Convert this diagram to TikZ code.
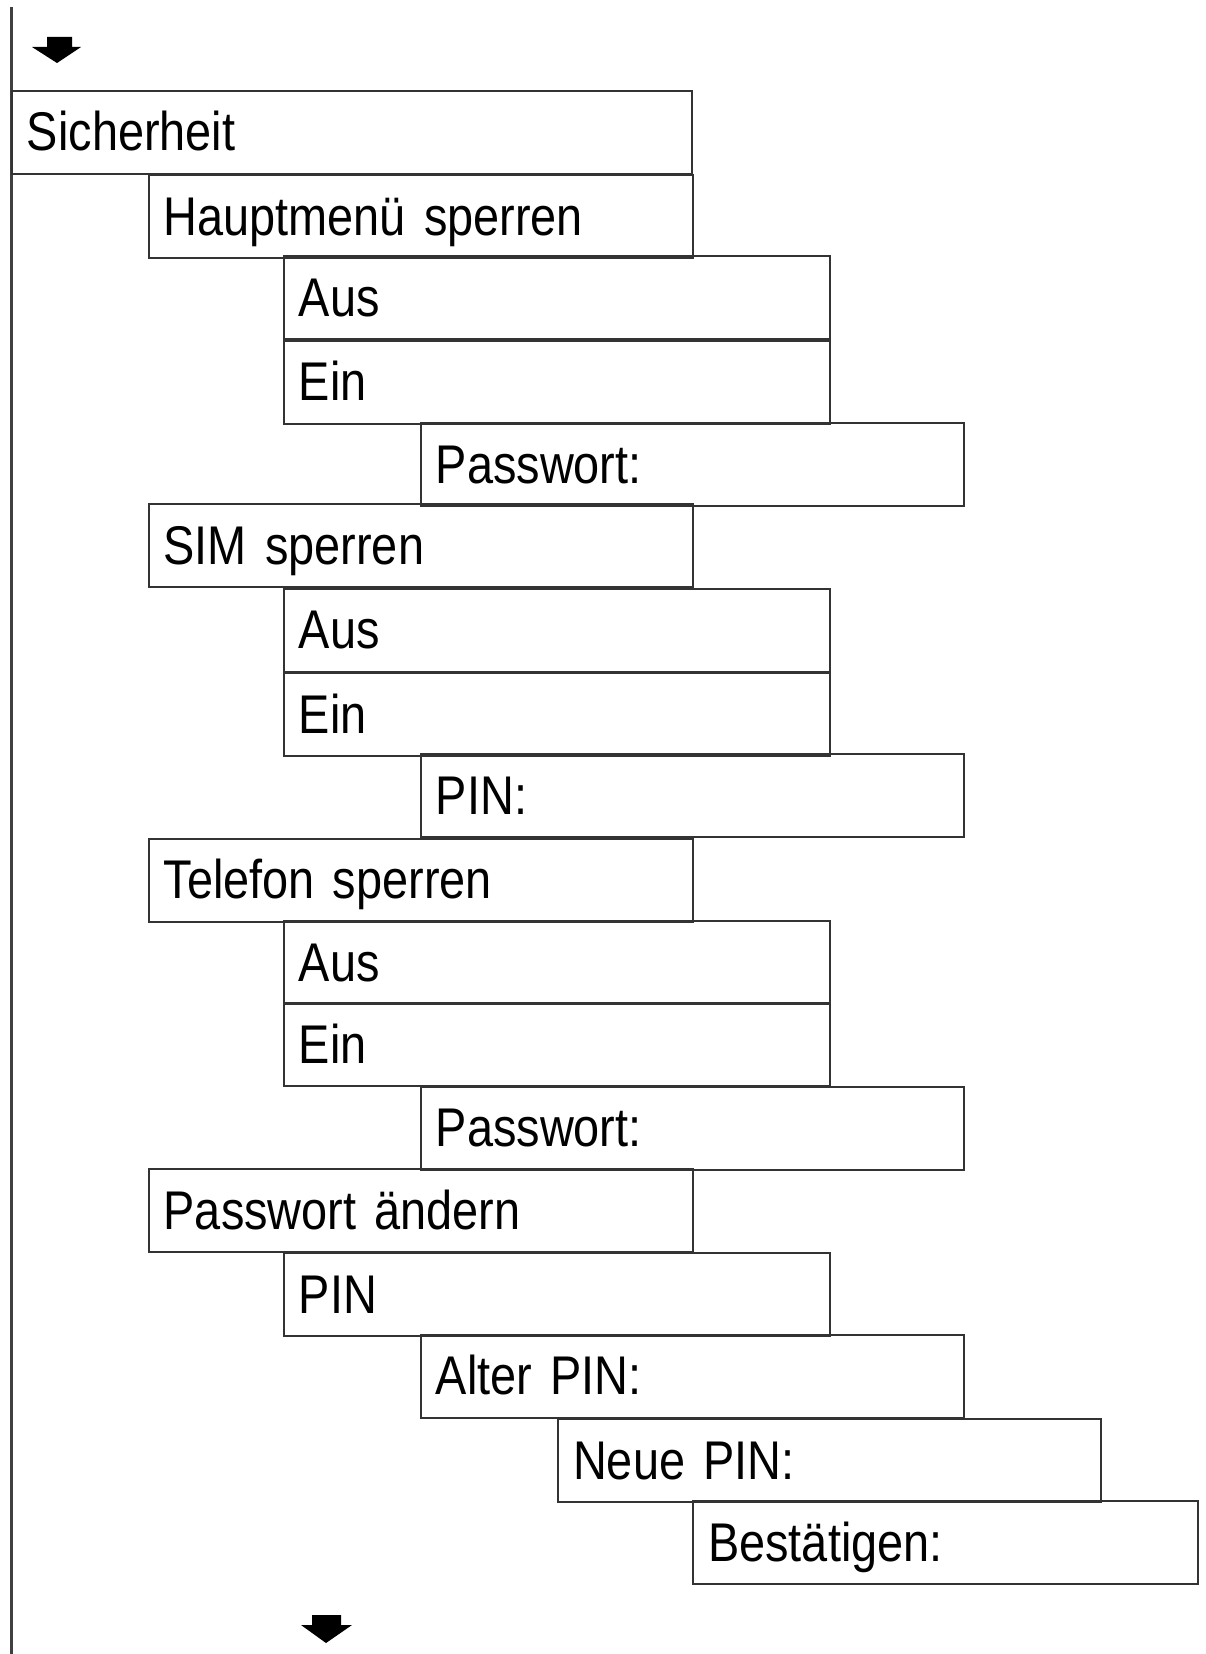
\documentclass[tikz,border=0pt]{standalone}
\usepackage{fontspec}
\setmainfont[FakeStretch=0.86]{Liberation Sans}
\usepackage{tikz}
\usetikzlibrary{positioning}

\tikzset{
  menubox/.style={draw=black!80, line width=2pt, anchor=north west,
    minimum height=83pt, inner xsep=15pt, inner ysep=0pt,
    text height=37pt, text depth=0pt, align=left,
    font=\fontsize{54.5}{60}\selectfont},
  downmark/.style={fill=black}
}

\begin{document}
\begin{tikzpicture}[x=1pt,y=-1pt]
  \useasboundingbox (0,0) rectangle (1206,1654);

  % left rail
  \coordinate (railtop) at (11,7);
  \coordinate (railbot) at (11,1654);
  \draw[black!75, line width=3pt] (railtop) -- (railbot);

  % top arrow
  \fill[downmark] (47,37) -- (72,37) -- (72,47) -- (81,47) -- (57,63) -- (32,47) -- (47,47) -- cycle;

  \node[menubox, text width=650pt] (sich) at (11,89.7) {Sicherheit};

  \node[menubox, text width=514pt] (haupt) at (147.7,174.1) {Hauptmenü sperren};
  \node[menubox, text width=516pt] (haupt aus) at (282.8,255.3) {Aus};
  \node[menubox, text width=516pt] (haupt ein) at (282.8,339.7) {Ein};
  \node[menubox, text width=513pt] (haupt pw) at (419.9,422.0) {Passwort:};

  \node[menubox, text width=514pt] (sim) at (147.7,503.3) {SIM sperren};
  \node[menubox, text width=516pt] (sim aus) at (282.8,587.7) {Aus};
  \node[menubox, text width=516pt] (sim ein) at (282.8,672.1) {Ein};
  \node[menubox, text width=513pt] (sim pin) at (419.9,753.3) {PIN:};

  \node[menubox, text width=514pt] (tel) at (147.7,837.7) {Telefon sperren};
  \node[menubox, text width=516pt] (tel aus) at (282.8,920.0) {Aus};
  \node[menubox, text width=516pt] (tel ein) at (282.8,1002.3) {Ein};
  \node[menubox, text width=513pt] (tel pw) at (419.9,1085.7) {Passwort:};

  \node[menubox, text width=514pt] (pwchg) at (147.7,1168.0) {Passwort ändern};
  \node[menubox, text width=516pt] (pwchg pin) at (282.8,1252.4) {PIN};
  \node[menubox, text width=513pt] (pin alt) at (419.9,1333.6) {Alter PIN:};
  \node[menubox, text width=513pt] (pin neu) at (557.1,1418.0) {Neue PIN:};
  \node[menubox, text width=475pt] (pin ok) at (692.2,1500.3) {Bestätigen:};

  % bottom arrow
  \fill[downmark] (312,1615) -- (341,1615) -- (341,1625) -- (352,1625) -- (326,1643) -- (301,1625) -- (312,1625) -- cycle;
\end{tikzpicture}
\end{document}
